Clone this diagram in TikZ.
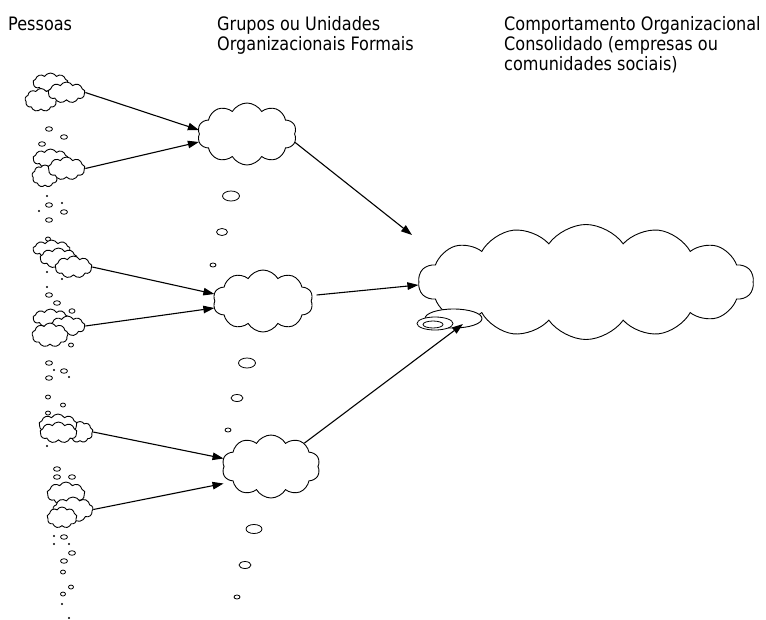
\documentclass[tikz,border=0pt]{standalone}
\usepackage{fontspec}
\setmainfont{DejaVu Sans}[FakeStretch=0.87]
\usetikzlibrary{shapes.symbols,shapes.geometric,arrows.meta}
\begin{document}
\begin{tikzpicture}[x=1pt,y=-1pt,
  cl/.style={cloud, draw=black, fill=white, line width=0.9pt, inner sep=0pt,
     cloud ignores aspect, cloud puffs=9, cloud puff arc=120},
  pc/.style 2 args={cl, minimum width=#1pt, minimum height=#2pt},
  gc/.style={cl, cloud puffs=10, minimum width=99pt, minimum height=62pt},
  bub/.style 2 args={ellipse, draw=black, fill=white, line width=0.8pt, inner sep=0pt,
     minimum width=#1pt, minimum height=#2pt},
  dot/.style={circle, fill=black, inner sep=0pt, minimum size=2.2pt},
  arr/.style={line width=1.1pt, -{Triangle[length=11pt,width=7.5pt]}},
  lbl/.style={anchor=base west, align=left, inner sep=0pt,
     font=\fontsize{18.5}{20}\selectfont}
]
\useasboundingbox[fill=white] (0,0) rectangle (766,619);

% titles (anchor base west = baseline of the last line)
\node[lbl] (tp) at (8,30) {Pessoas};
\node[lbl] (tg) at (217,50) {Grupos ou Unidades\\Organizacionais Formais};
\node[lbl] (tc) at (504,70) {Comportamento Organizacional\\Consolidado (empresas ou\\comunidades sociais)};

% person clusters
\node[pc={35}{19}] (p1a) at (50.5,82.5) {};
\node[pc={32}{23}] (p1b) at (41,100) {};
\node[pc={37}{21}] (p1c) at (66.5,92.5) {};

\node[pc={35}{19}] (p2a) at (50.5,158.5) {};
\node[pc={26}{22}] (p2b) at (45,176) {};
\node[pc={37}{23}] (p2c) at (66.5,168.5) {};

\node[pc={37}{18}] (p3a) at (51.5,249) {};
\node[pc={37}{20}] (p3b) at (58.5,258) {};
\node[pc={37}{22}] (p3c) at (73.5,267) {};

\node[pc={35}{18}] (p4a) at (50.5,318) {};
\node[pc={35}{20}] (p4b) at (67.5,326) {};
\node[pc={36}{24}] (p4c) at (50,335) {};

\node[pc={26}{21}] (p5c) at (80,432) {};
\node[pc={38}{21}] (p5a) at (58,424.5) {};
\node[pc={37}{21}] (p5b) at (58.5,432.5) {};

\node[pc={38}{23}] (p6a) at (66,493.5) {};
\node[pc={40}{25}] (p6b) at (73,509.5) {};
\node[pc={30}{21}] (p6c) at (62,517.5) {};

% small bubbles, left column
\foreach \x/\y/\w/\h [count=\i] in {
  49/129/7/4.5, 64/137/7/4.5, 42/144/7/4.5,
  49/205/7/4.5, 64/212/7/4.5, 49/220/7/4.5,
  48/239/5/4,
  49/295/7/4.5, 57/303/7/4.5, 72/311/6/4.5,
  71/345/5/4,
  49/363/7/4.5, 64/371/7/4.5, 49/378/7/4.5, 48/397/5/4, 63/405/5/4, 48/413/5/4,
  57/469/7/4.5, 57/477/7/4.5, 72/477/7/4.5,
  64/537/7/4.5, 72/553/7/4.5, 64/561/7/4.5, 63/572/5/4, 71/587/5/4, 63/594/5/4}
  \node[bub={\w}{\h}] (lb\i) at (\x,\y) {};

% dots
\foreach \x/\y [count=\i] in {47/196, 62/203, 39/211, 47/272, 62/279, 47/287,
  54/370, 69/377, 47/446, 54/536, 54/544, 69/544, 62/604, 69/618}
  \node[dot] (dt\i) at (\x,\y) {};

% group clouds
\node[gc] (g1) at (247,134) {};
\node[gc, minimum width=100pt] (g2) at (263,301) {};
\node[gc, minimum width=98pt, minimum height=63pt] (g3) at (271,466.5) {};

% bubbles, middle column
\foreach \x/\y/\w/\h [count=\i] in {
  231/196/17/10, 222/232/11/7, 213/265/6/4,
  247/363/17/10, 237/398/12/7,
  228/430/6/4, 254/529/16/9, 245/565/12/7, 237/597/6/4}
  \node[bub={\w}{\h}] (mb\i) at (\x,\y) {};

% big cloud
\node[cl, cloud puffs=14, cloud puff arc=110, minimum width=335pt, minimum height=115pt] (big) at (586,282) {};
\node[bub={57}{19}, line width=0.9pt] (bb1) at (453.5,318.5) {};
\node[bub={36}{13}] (bb2) at (435,323.5) {};
\node[bub={20}{7}] (bb3) at (433,324.5) {};

% arrows persons -> groups
\draw[arr] (p1c.east) -- ([yshift=4pt]g1.west);
\draw[arr] (p2c.east) -- ([yshift=-8pt]g1.west);
\draw[arr] (p3c.east) -- ([yshift=7pt]g2.west);
\draw[arr] (p4b.east) -- ([yshift=-7pt]g2.west);
\draw[arr] (p5c.east) -- ([yshift=8pt]g3.west);
\draw[arr] (p6b.east) -- ([yshift=-17pt]g3.west);

% arrows groups -> consolidated
\coordinate (t1) at (412,235);
\coordinate (t3) at (463,324);
\draw[arr] (g1.-10) -- (t1);
\draw[arr] ([xshift=5pt,yshift=6pt]g2.east) -- ([yshift=-3pt]big.west);
\draw[arr] (g3.35) -- (t3);
\end{tikzpicture}
\end{document}
